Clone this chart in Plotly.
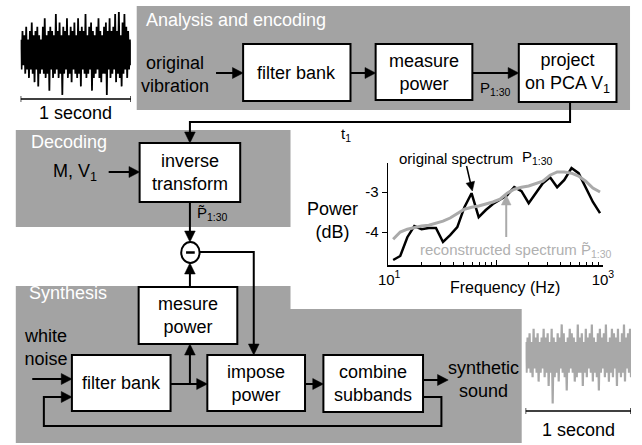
import numpy as np
import plotly.graph_objects as go

# ---------------- data ----------------
# spectrum (30 subbands)
freq_hz = [10.9, 12.7, 14.8, 17.2, 20.1, 23.5, 27.4, 31.9, 37.2, 43.4,
           50.6, 59.0, 68.8, 80.2, 93.5, 109, 127, 148, 173, 202,
           235, 274, 320, 373, 435, 508, 592, 690, 805, 939]
orig_db = [-4.70, -4.60, -4.13, -3.85, -3.93, -3.90, -3.90, -4.25, -4.08, -3.88,
           -3.38, -3.03, -3.63, -3.45, -3.30, -3.20, -3.08, -2.88, -2.98, -3.28,
           -3.03, -2.78, -2.63, -2.88, -2.70, -2.40, -2.53, -2.88, -3.25, -3.53]
recon_db = [-4.18, -4.00, -3.93, -3.89, -3.85, -3.83, -3.78, -3.73, -3.65, -3.53,
            -3.43, -3.38, -3.35, -3.30, -3.25, -3.18, -3.03, -2.93, -2.88, -2.85,
            -2.80, -2.73, -2.58, -2.50, -2.50, -2.53, -2.60, -2.73, -2.90, -3.00]
x_major = [10, 100, 1000]
x_major_text = ["10<sup>1</sup>", "", "10<sup>3</sup>"]
x_minor = [20, 30, 40, 50, 60, 70, 80, 90, 200, 300, 400, 500, 600, 700, 800, 900]
y_ticks = [-4, -3]
y_tick_text = ["-4", "-3"]

# waveforms (amplitude, arbitrary units), 1 second each
wave_orig = [3, -4, 5, -3, 4, -5, 6, -4, 3, -6, 5, -4, 7, -5, 4, -7, 5, -4, 6, -8,
             4, -5, 3, -4, 6, -5, 8, -6, 4, -5, 5, -9, 6, -4, 5, -6, 4, -5, 9, -4,
             5, -6, 7, -5, 4, -10, 6, -5, 5, -4, 8, -6, 4, -5, 6, -7, 5, -4, 7, -5,
             4, -6, 8, -5, 5, -8, 6, -4, 5, -5, 9, -6, 4, -5, 6, -4, 7, -9, 5, -6,
             4, -5, 6, -4, 8, -6, 5, -7, 4, -5, 6, -5, 7, -10, 5, -4, 8, -6, 5, -5,
             6, -4, 9, -7, 5, -5, 10, -6, 4, -8, 7, -5, 9, -4, 6, -6, 5, -4, 3, -3]
wave_synth = [3, -4, 4, -3, 5, -4, 3, -5, 6, -3, 4, -4, 5, -6, 3, -4, 4, -3, 6, -5,
              4, -4, 5, -7, 3, -4, 6, -11, 4, -5, 3, -4, 5, -6, 4, -3, 7, -4, 5, -5,
              3, -8, 4, -4, 6, -3, 5, -4, 4, -6, 3, -5, 7, -4, 4, -4, 5, -7, 3, -4,
              6, -5, 4, -3, 5, -4, 7, -6, 4, -4, 3, -5, 5, -8, 6, -4, 4, -3, 5, -5,
              7, -4, 3, -6, 4, -4, 6, -5, 5, -3, 4, -7, 6, -4, 3, -5, 5, -4, 7, -6,
              4, -3, 5, -4, 6, -5]

# ---------------- style / layout constants ----------------
W, H = 642, 445
FONT = "Liberation Sans, Arial, sans-serif"
PANEL = "#a3a3a3"
LIGHT = "#aaaaaa"

shapes = []
annotations = []


def poly(pts, color="black", lw=2, closed=False, fill=None):
    path = "M " + " L ".join(f"{x},{y}" for x, y in pts) + (" Z" if closed else "")
    d = dict(type="path", xref="x", yref="y", path=path,
             line=dict(color=color, width=lw))
    if fill:
        d["fillcolor"] = fill
    shapes.append(d)


def arrow(pts, color="black", lw=2, head=11, half=5.5):
    (x1, y1), (x2, y2) = pts[-2], pts[-1]
    dx, dy = x2 - x1, y2 - y1
    L = (dx * dx + dy * dy) ** 0.5
    ux, uy = dx / L, dy / L
    bx, by = x2 - ux * head, y2 - uy * head
    poly(list(pts[:-1]) + [(bx + ux, by + uy)], color, lw)
    px, py = -uy, ux
    tri = (f"M {x2},{y2} L {bx + px * half},{by + py * half} "
           f"L {bx - px * half},{by - py * half} Z")
    shapes.append(dict(type="path", xref="x", yref="y", path=tri,
                       fillcolor=color, line=dict(color=color, width=0.5)))


def text(x, y, s, size=18, color="black", xanchor="center", xref="x", yref="y"):
    annotations.append(dict(x=x, y=y, xref=xref, yref=yref, text=s, showarrow=False,
                            font=dict(family=FONT, size=size, color=color),
                            xanchor=xanchor, yanchor="middle"))


def box(x0, y0, x1, y1, label):
    shapes.append(dict(type="rect", xref="x", yref="y", x0=x0, y0=y0, x1=x1, y1=y1,
                       fillcolor="white", line=dict(color="black", width=2)))
    text((x0 + x1) / 2, (y0 + y1) / 2, label)


# ---------------- panels ----------------
poly([(131, 6), (641, 6), (641, 110), (131, 110)], color=PANEL, lw=0, closed=True, fill=PANEL)
poly([(6, 130), (290, 130), (290, 227), (6, 227)], color=PANEL, lw=0, closed=True, fill=PANEL)
poly([(6, 286), (290, 286), (290, 309), (529, 309), (529, 443), (6, 443)],
     color=PANEL, lw=0, closed=True, fill=PANEL)

# ---------------- analysis & encoding ----------------
text(139, 20, "Analysis and encoding", color="white", xanchor="left")
text(171, 74, "original<br>vibration")
box(241, 44, 352, 101, "filter bank")
box(378, 44, 478, 100, "measure<br>power")
box(526, 44, 627, 102, "project<br>on PCA V<sub>1</sub>")
arrow([(213, 73), (241, 73)])
arrow([(352, 73), (378, 73)])
arrow([(478, 73), (526, 73)])
text(502, 88, "P<sub>1:30</sub>", size=15)
arrow([(579, 102), (579, 122), (186, 122), (186, 143)])
text(347, 134, "t<sub>1</sub>", size=15)

# ---------------- decoding ----------------
text(20, 142, "Decoding", color="white", xanchor="left")
box(134, 143, 238, 202, "inverse<br>transform")
text(67, 172, "M, V<sub>1</sub>")
arrow([(102, 172), (134, 172)])
arrow([(186, 202), (186, 242)])
text(191, 213, "P\u0303<sub>1:30</sub>", size=15, xanchor="left")
shapes.append(dict(type="circle", xref="x", yref="y", x0=177, y0=242, x1=196, y1=263,
                   fillcolor="white", line=dict(color="black", width=2)))
poly([(182, 252.5), (191, 252.5)], lw=2.5)
arrow([(196, 252), (252, 252), (252, 355)])
arrow([(186, 287), (186, 263)])

# ---------------- synthesis ----------------
text(18, 293, "Synthesis", color="white", xanchor="left")
box(133, 287, 235, 344, "mesure<br>power")
box(64, 355, 166, 411, "filter bank")
box(204, 355, 305, 411, "impose<br>power")
box(324, 355, 427, 412, "combine<br>subbands")
text(12, 347, "white<br>noise", xanchor="left")
arrow([(23, 379), (64, 379)])
arrow([(427, 397), (446, 397), (446, 426), (35, 426), (35, 397), (64, 397)])
arrow([(166, 384), (204, 384)])
arrow([(186, 384), (186, 344)])
arrow([(305, 384), (324, 384)])
arrow([(427, 380), (453, 380)])
text(490, 379, "synthetic<br>sound")

# ---------------- waveforms ----------------
fig = go.Figure()
fig.add_trace(go.Scatter(x=[0], y=[0], mode="markers", marker=dict(opacity=0),
                         hoverinfo="skip", showlegend=False, xaxis="x", yaxis="y"))
t1 = np.linspace(0, 1, len(wave_orig))
fig.add_trace(go.Scatter(x=t1, y=wave_orig, mode="lines", line=dict(color="black", width=1.8),
                         showlegend=False, xaxis="x3", yaxis="y3"))
t2 = np.linspace(0, 1, len(wave_synth))
fig.add_trace(go.Scatter(x=t2, y=wave_synth, mode="lines", line=dict(color="#a8a8a8", width=2.2),
                         showlegend=False, xaxis="x4", yaxis="y4"))

for xr, yb, ylab in (("x3", 99, 113), ("x4", 411, 430)):
    shapes.append(dict(type="line", xref=xr, yref="y", x0=0, x1=1, y0=yb, y1=yb,
                       line=dict(color="black", width=1.3)))
    for xe in (0, 1):
        shapes.append(dict(type="line", xref=xr, yref="y", x0=xe, x1=xe, y0=yb - 3, y1=yb + 3,
                           line=dict(color="black", width=1.3)))
    text(0.5, ylab, "1 second", xref=xr)

# ---------------- spectrum ----------------
fig.add_trace(go.Scatter(x=freq_hz, y=orig_db, mode="lines", line=dict(color="black", width=2.5),
                         showlegend=False, xaxis="x2", yaxis="y2"))
fig.add_trace(go.Scatter(x=freq_hz, y=recon_db, mode="lines", line=dict(color=LIGHT, width=3),
                         showlegend=False, xaxis="x2", yaxis="y2"))
text(461, 158, "original spectrum", size=15)
text(545, 157, "P<sub>1:30</sub>", size=15)
arrow([(472, 166), (478, 191)], lw=1.5, head=9, half=4.5)
arrow([(513, 237), (513, 195)], color=LIGHT, lw=2, head=10, half=5)
text(523, 250, "reconstructed spectrum P\u0303<sub>1:30</sub>", size=15, color="#b0b0b0")
text(333, 220, "Power<br>(dB)", size=18)
text(512, 287, "Frequency (Hz)", size=16)

hidden = dict(visible=False, showgrid=False, zeroline=False, fixedrange=True)
fig.update_layout(
    width=W, height=H, margin=dict(l=0, r=0, t=0, b=0),
    paper_bgcolor="white", plot_bgcolor="white", showlegend=False,
    hovermode=False,
    xaxis=dict(hidden, domain=[0, 1], range=[0, W]),
    yaxis=dict(hidden, domain=[0, 1], range=[H, 0]),
    xaxis2=dict(type="log", domain=[391 / W, 613 / W], range=[np.log10(9.8), 3.0],
                anchor="y2", showline=True, linecolor="black", linewidth=1.5,
                showgrid=False, zeroline=False, ticks="inside", ticklen=5,
                tickcolor="black", tickvals=x_major, ticktext=x_major_text,
                tickfont=dict(family=FONT, size=15, color="black"),
                minor=dict(tickvals=x_minor, ticks="inside", ticklen=3,
                           tickcolor="black", tickwidth=1)),
    yaxis2=dict(domain=[(H - 265) / H, (H - 163) / H], range=[-4.825, -2.275],
                anchor="x2", showline=True, linecolor="black", linewidth=1.5,
                showgrid=False, zeroline=False, ticks="outside", ticklen=5,
                tickcolor="black", tickvals=y_ticks, ticktext=y_tick_text,
                tickfont=dict(family=FONT, size=15, color="black")),
    xaxis3=dict(hidden, domain=[11 / W, 125 / W], range=[0, 1], anchor="y3"),
    yaxis3=dict(hidden, domain=[(H - 97) / H, (H - 12) / H], range=[-10.5, 9.5], anchor="x3"),
    xaxis4=dict(hidden, domain=[533 / W, 1.0], range=[0, 1], anchor="y4"),
    yaxis4=dict(hidden, domain=[(H - 408) / H, (H - 320) / H], range=[-12, 8], anchor="x4"),
    shapes=shapes, annotations=annotations,
)
fig.write_html("out.html",
               config={"displayModeBar": False, "staticPlot": True},
               post_script="document.body.style.margin='0';"
                           "document.body.style.overflow='hidden';")
